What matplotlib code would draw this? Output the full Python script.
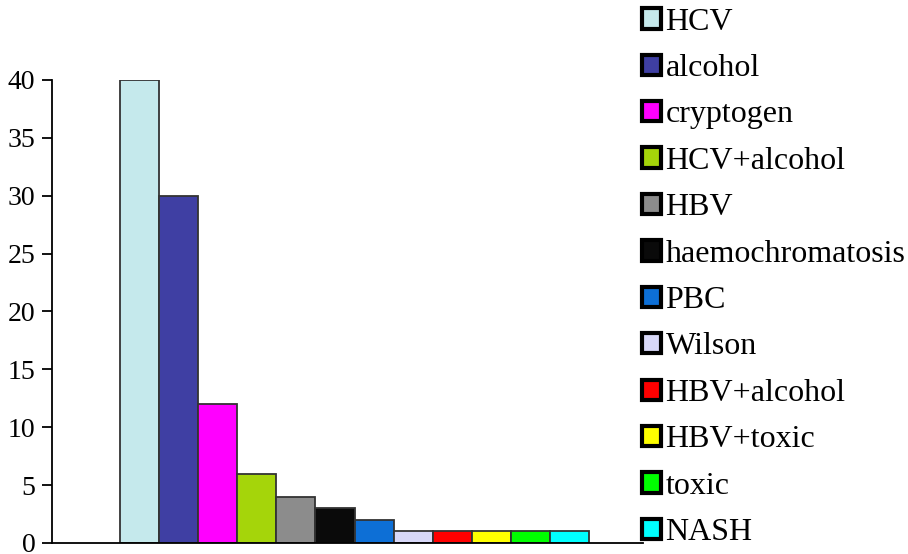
import matplotlib
matplotlib.use('Agg')
import matplotlib.pyplot as plt
from matplotlib.patches import Patch

plt.rcParams['font.family'] = ['Liberation Serif', 'DejaVu Serif']

causes = ['HCV', 'alcohol', 'cryptogen', 'HCV+alcohol', 'HBV', 'haemochromatosis',
          'PBC', 'Wilson', 'HBV+alcohol', 'HBV+toxic', 'toxic', 'NASH']
counts = [40, 30, 12, 6, 4, 3, 2, 1, 1, 1, 1, 1]
colors = ['#c5e9ec', '#3f3fa3', '#ff00ff', '#a5d50a', '#8c8c8c', '#0a0a0a',
          '#0d6fd6', '#d8d8f8', '#ff0000', '#ffff00', '#00ff00', '#00ffff']
yticks = [0, 5, 10, 15, 20, 25, 30, 35, 40]

fig = plt.figure(figsize=(9.08, 5.54), dpi=100)
ax = fig.add_axes([0.0573, 0.0199, 0.6508, 0.8357])

ax.bar(range(len(counts)), counts, width=1.0, color=colors,
       edgecolor='#333333', linewidth=1.3)

ax.set_xlim(-2.24, 12.88)
ax.set_ylim(0, 40)
ax.set_yticks(yticks)
ax.set_xticks([])
ax.tick_params(axis='y', direction='out', length=7, width=1.3,
               labelsize=20, pad=5)
for s in ['top', 'right']:
    ax.spines[s].set_visible(False)
for s in ['left', 'bottom']:
    ax.spines[s].set_linewidth(1.3)

# legend squares with heavy black borders
handles = [Patch(facecolor=c, edgecolor='black', linewidth=3) for c in colors]
fig.legend(handles, causes, loc='upper left', bbox_to_anchor=(0.703, 0.992),
           frameon=False, fontsize=23, borderpad=0.1, borderaxespad=0,
           handlelength=0.6, handleheight=0.6, handletextpad=0.15,
           labelspacing=0.545)

fig.savefig('out.png', dpi=100)
